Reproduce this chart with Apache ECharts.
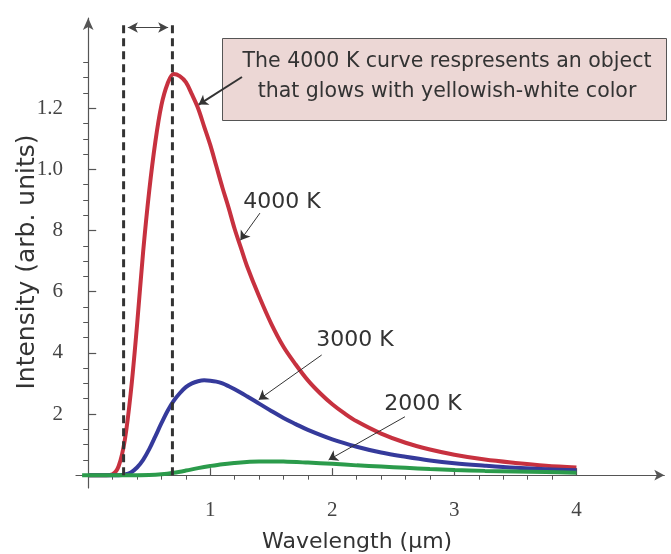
<!DOCTYPE html>
<html><head><meta charset="utf-8">
<script src="https://cdn.jsdelivr.net/npm/echarts@6/dist/echarts.min.js"></script>
<style>html,body{margin:0;padding:0;background:#fff}#c{width:671px;height:554px}</style>
</head><body><div id="c"></div>
<script>
// Data (wavelength in µm, intensity in arb. units)
const curve4000 = [[0,0],[0.15,0],[0.2,0.03],[0.25,0.3],[0.3,1.15],[0.35,2.75],[0.4,4.9],[0.45,7.3],[0.5,9.3],[0.55,10.9],[0.6,12.1],[0.65,12.8],[0.7,13.12],[0.75,13.05],[0.8,12.85],[0.85,12.45],[0.9,12.0],[0.95,11.4],[1.0,10.8],[1.05,10.1],[1.1,9.4],[1.15,8.75],[1.2,8.05],[1.25,7.45],[1.3,6.85],[1.4,5.85],[1.5,4.95],[1.6,4.2],[1.7,3.62],[1.8,3.1],[1.9,2.68],[2.0,2.32],[2.1,2.02],[2.2,1.76],[2.4,1.36],[2.6,1.06],[2.8,0.84],[3.0,0.67],[3.25,0.51],[3.5,0.4],[3.75,0.31],[4.0,0.25]];
const curve3000 = [[0,0],[0.25,0],[0.3,0.02],[0.35,0.09],[0.4,0.25],[0.45,0.5],[0.5,0.85],[0.55,1.27],[0.6,1.7],[0.65,2.1],[0.7,2.43],[0.75,2.68],[0.8,2.88],[0.85,3.0],[0.9,3.07],[0.95,3.1],[1.0,3.09],[1.05,3.06],[1.1,3.0],[1.15,2.91],[1.2,2.81],[1.3,2.58],[1.4,2.34],[1.5,2.1],[1.6,1.87],[1.7,1.67],[1.8,1.48],[2.0,1.17],[2.2,0.93],[2.4,0.74],[2.6,0.6],[2.8,0.48],[3.0,0.39],[3.25,0.31],[3.5,0.24],[3.75,0.19],[4.0,0.16]];
const curve2000 = [[-0.05,0],[0.4,0],[0.5,0.005],[0.6,0.03],[0.7,0.08],[0.8,0.15],[0.9,0.23],[1.0,0.3],[1.1,0.36],[1.2,0.4],[1.3,0.43],[1.4,0.45],[1.5,0.45],[1.6,0.445],[1.8,0.41],[2.0,0.37],[2.2,0.32],[2.4,0.28],[2.6,0.24],[2.8,0.2],[3.0,0.17],[3.25,0.14],[3.5,0.12],[3.75,0.1],[4.0,0.08]];
const curveNames = ['4000 K','3000 K','2000 K'];

const xTickValues = [1,2,3,4];
const xTickLabels = ['1','2','3','4'];
const xMinorTicks = [0.2,0.4,0.6,0.8,1.2,1.4,1.6,1.8,2.2,2.4,2.6,2.8,3.2,3.4,3.6,3.8];
const yTickValues = [2,4,6,8,10,12];
const yTickLabels = ['2','4','6','8','1.0','1.2'];
const yMinorTicks = [0.5,1,1.5,2.5,3,3.5,4.5,5,5.5,6.5,7,7.5,8.5,9,9.5,10.5,11,11.5,12.5,13,13.5];

const bandEdges = [0.29, 0.69];
const bandTop = 14.79;
const noteText = ['The 4000 K curve respresents an object', 'that glows with yellowish-white color'];
const xName = 'Wavelength (\u03bcm)';
const yName = 'Intensity (arb. units)';

const X_MIN = -0.1, X_MAX = 4.72, Y_MIN = -0.42, Y_MAX = 14.95;
const serif = '"Liberation Serif", "DejaVu Serif", serif';
const sans = '"DejaVu Sans", "Liberation Sans", sans-serif';

const chart = echarts.init(document.getElementById('c'), null, {renderer: 'canvas'});

function labelPoint(name, coord) {
  return {coord: coord, symbol: 'circle', symbolSize: 0,
    label: {show: true, position: 'inside', formatter: name, color: '#333', fontSize: 22, fontFamily: sans}};
}
function arrow(from, to, width) {
  return [{coord: from, lineStyle: {width: width}}, {coord: to}];
}
const arrowBase = {silent: true, symbol: ['none', 'arrow'], symbolSize: 9, label: {show: false},
  lineStyle: {type: 'solid', color: '#333', width: 1}, emphasis: {disabled: true}, animation: false};

const lineCommon = {type: 'line', showSymbol: false, smooth: 0.35};

const option = {
  animation: false,
  grid: {left: 76, right: 6.7, top: 18, bottom: 66, containLabel: false, outerBoundsMode: 'none'},
  xAxis: [{
    type: 'value', min: X_MIN, max: X_MAX,
    axisLine: {onZero: true, lineStyle: {color: '#555', width: 1.2}, symbol: ['none', 'arrow'], symbolSize: [8, 10]},
    axisTick: {inside: true, length: 7, customValues: xTickValues, lineStyle: {color: '#555', width: 1.2}},
    axisLabel: {customValues: xTickValues, formatter: v => xTickLabels[xTickValues.indexOf(v)], margin: 12,
      color: '#444', fontSize: 21, fontFamily: serif},
    splitLine: {show: false},
    name: xName, nameLocation: 'middle', nameGap: 43, nameMoveOverlap: false,
    nameTextStyle: {fontSize: 22, fontFamily: sans, color: '#333', padding: [0, 26, 0, 0]}
  }, {
    type: 'value', min: X_MIN, max: X_MAX,
    axisLine: {show: false, onZero: true},
    axisTick: {inside: true, length: 4.5, customValues: xMinorTicks, lineStyle: {color: '#555', width: 1}},
    axisLabel: {show: false}, splitLine: {show: false}
  }],
  yAxis: [{
    type: 'value', min: Y_MIN, max: Y_MAX,
    axisLine: {show: true, onZero: true, lineStyle: {color: '#555', width: 1.2}, symbol: ['none', 'arrow'], symbolSize: [8, 12]},
    axisTick: {show: true, inside: true, length: 8, customValues: yTickValues, lineStyle: {color: '#555', width: 1.2}},
    axisLabel: {customValues: yTickValues, formatter: v => yTickLabels[yTickValues.indexOf(v)], margin: 13,
      color: '#444', fontSize: 21, fontFamily: serif},
    splitLine: {show: false}
  }, {
    type: 'value', min: Y_MIN, max: Y_MAX,
    axisLine: {show: false, onZero: true},
    axisTick: {show: true, inside: true, length: 5, customValues: yMinorTicks, lineStyle: {color: '#555', width: 1}},
    axisLabel: {show: false}, splitLine: {show: false}
  }],
  series: [
    Object.assign({}, lineCommon, {
      name: curveNames[0], data: curve4000,
      lineStyle: {color: '#c7313f', width: 4}, itemStyle: {color: '#c7313f'}, z: 2,
      markPoint: {silent: true, animation: false, data: [labelPoint(curveNames[0], [1.588, 8.93])]},
      markLine: Object.assign({}, arrowBase, {data: [arrow([1.26, 13.02], [0.905, 12.12], 2), arrow([1.407, 8.57], [1.247, 7.68], 1)]})
    }),
    Object.assign({}, lineCommon, {
      name: curveNames[1], data: curve3000,
      lineStyle: {color: '#353a9b', width: 4}, itemStyle: {color: '#353a9b'}, z: 3,
      markPoint: {silent: true, animation: false, data: [labelPoint(curveNames[1], [2.186, 4.42])]},
      markLine: Object.assign({}, arrowBase, {data: [arrow([1.913, 3.93], [1.397, 2.47], 1)]})
    }),
    Object.assign({}, lineCommon, {
      name: curveNames[2], data: curve2000,
      lineStyle: {color: '#2b9b4b', width: 4}, itemStyle: {color: '#2b9b4b'}, z: 4,
      markPoint: {silent: true, animation: false, data: [labelPoint(curveNames[2], [2.743, 2.33])]},
      markLine: Object.assign({}, arrowBase, {data: [arrow([2.595, 1.91], [1.97, 0.5], 1)]})
    }),
    {
      type: 'line', data: [[bandEdges[0], 0], [bandEdges[0], bandTop]], showSymbol: false, silent: true, z: 5,
      lineStyle: {color: '#333', width: 3, type: [8, 5]}
    },
    {
      type: 'line', data: [[bandEdges[1], 0], [bandEdges[1], bandTop]], showSymbol: false, silent: true, z: 5,
      lineStyle: {color: '#333', width: 3, type: [8, 5]},
      markLine: Object.assign({}, arrowBase, {symbol: ['arrow', 'arrow'], symbolSize: [8, 10],
        lineStyle: {type: 'solid', color: '#444', width: 1},
        data: [[{coord: [bandEdges[0] + 0.035, 14.64]}, {coord: [bandEdges[1] - 0.035, 14.64]}]]})
    }
  ],
  graphic: [
    {type: 'rect', left: 222, top: 38, silent: true, shape: {width: 444, height: 82},
      style: {fill: '#ecd7d5', stroke: '#555', lineWidth: 1}},
    {type: 'text', x: 447, y: 77, silent: true,
      style: {text: noteText.join('\n'), fontSize: 20.5, fontFamily: sans, fill: '#333',
        align: 'center', verticalAlign: 'middle', lineHeight: 30}},
    {type: 'text', x: 27, y: 262, rotation: Math.PI / 2, silent: true,
      style: {text: yName, fontSize: 25, fontFamily: sans, fill: '#333', align: 'center', verticalAlign: 'middle'}}
  ]
};
chart.setOption(option);
</script>
</body></html>
